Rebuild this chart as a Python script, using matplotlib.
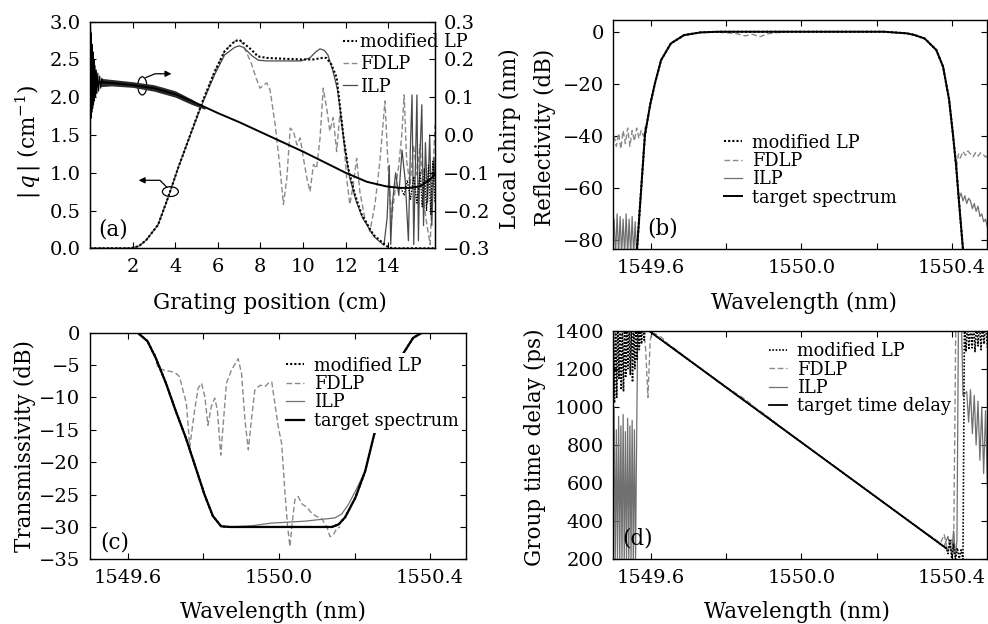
import matplotlib
matplotlib.use("Agg")
import matplotlib.pyplot as plt
from matplotlib.patches import Ellipse


plt.rcParams["font.family"] = ["DejaVu Serif"]
plt.rcParams["mathtext.fontset"] = "dejavuserif"

TICK_SIZE = 14
LABEL_SIZE = 15.5
LEGEND_SIZE = 12.8

MLP_STYLE = dict(color="black", linestyle=(0, (1, 1)), linewidth=1.5)
FDLP_STYLE = dict(color="#8a8a8a", linestyle=(0, (4, 2)), linewidth=1.0)
ILP_STYLE = dict(color="#707070", linestyle="-", linewidth=0.9)
TARGET_STYLE = dict(color="black", linestyle="-", linewidth=2.0)

# ---- (a) |q| and local chirp along the grating ----
pos_mlp = [0, 1.9, 2.3, 2.64, 3.19, 3.66, 4.13, 4.6, 5.22, 5.85, 6.32, 6.79, 7.0, 7.1, 7.57, 7.88,
           8.3, 9.0, 9.87, 10.5, 10.9, 11.1, 11.34, 11.58, 11.73, 11.89, 12.12, 12.44, 12.75, 13.3,
           13.92, 14.2, 16.2]
q_mlp = [0, 0, 0.03, 0.11, 0.31, 0.67, 1.06, 1.42, 1.90, 2.34, 2.61, 2.74, 2.76, 2.74, 2.63, 2.54,
         2.52, 2.51, 2.5, 2.5, 2.52, 2.52, 2.43, 2.26, 1.90, 1.50, 1.06, 0.71, 0.45, 0.18,
         0.03, 0, 0]

pos_fdlp = [0, 1.9, 2.3, 2.64, 3.19, 3.66, 4.13, 4.6, 5.22, 5.85, 6.32, 6.79, 7.0, 7.1, 7.3, 7.57,
            7.8, 7.98, 8.29, 8.45, 8.69, 8.92, 9.08, 9.24, 9.4, 9.55, 9.71, 9.87, 10.02, 10.18,
            10.33, 10.49, 10.64, 10.8, 10.95, 11.11, 11.26, 11.42, 11.58, 11.73, 11.89, 12.05,
            12.2, 12.36, 12.52, 12.67, 12.9, 13.14, 13.38, 13.61, 13.85, 14.0, 14.16, 14.32,
            14.48, 14.64, 14.75, 14.87, 15.03, 15.19, 15.35, 15.5, 15.66, 15.82, 15.97, 16.13, 16.2]
q_fdlp = [0, 0, 0.03, 0.11, 0.31, 0.67, 1.06, 1.42, 1.90, 2.34, 2.61, 2.74, 2.76, 2.74, 2.62, 2.45,
          2.25, 2.12, 2.19, 2.1, 1.64, 1.06, 0.58, 0.93, 1.59, 1.55, 1.37, 1.46, 1.19, 0.93,
          0.75, 1.11, 1.06, 1.46, 2.12, 1.86, 1.55, 1.73, 1.28, 1.77, 1.5, 0.93,
          0.58, 0.84, 1.19, 0.75, 0.4, 0.22, 0.58, 1.15, 1.95, 1.06, 0.4, 0.75,
          1.06, 1.5, 2.03, 1.15, 0.84, 1.37, 0.97, 1.37, 0.62, 0.31, 0.05, 1.19, 1.63]

pos_ilp = [0, 1.9, 2.3, 2.64, 3.19, 3.66, 4.13, 4.6, 5.22, 5.85, 6.32, 6.79, 7.0, 7.2, 7.6, 7.9,
           8.3, 9.0, 9.9, 10.32, 10.6, 10.8, 11.0, 11.17, 11.42, 11.62, 11.78, 11.95, 12.18, 12.5,
           12.8, 13.35, 13.8, 13.95, 14.05, 14.12, 14.2, 14.35, 14.5, 14.65, 14.8, 14.95, 15.05,
           15.12, 15.2, 15.28, 15.35, 15.42, 15.5, 15.58, 15.66, 15.75, 15.85, 15.95, 16.05,
           16.15, 16.2]
q_ilp = [0, 0, 0.03, 0.11, 0.31, 0.67, 1.06, 1.42, 1.88, 2.3, 2.56, 2.66, 2.68, 2.66, 2.55, 2.49,
         2.48, 2.48, 2.48, 2.52, 2.6, 2.64, 2.62, 2.56, 2.33, 2.1, 1.75, 1.35, 0.95, 0.62,
         0.4, 0.15, 0.04, 0.4, 1.1, 0.05, 0.6, 1.0, 0.7, 1.3, 0.9, 0.1, 1.4,
         2.03, 0.05, 1.1, 2.03, 0.1, 1.3, 1.9, 0.3, 1.4, 0.6, 1.5, 0.3,
         1.2, 0.9]

chirp_pos = [0.3, 1, 2, 3, 4, 5, 6, 7, 8, 9, 10, 11, 12, 13, 13.9, 14.5, 15, 15.5, 16, 16.2]
chirp_nm = [0.14, 0.138, 0.132, 0.124, 0.108, 0.084, 0.058, 0.034, 0.008, -0.018, -0.044,
            -0.072, -0.1, -0.124, -0.136, -0.14, -0.14, -0.136, -0.116, -0.104]
chirp_spike_pos = [0.0, 0.02, 0.04, 0.06, 0.08, 0.10, 0.12, 0.14, 0.16, 0.18, 0.20, 0.23, 0.26,
                   0.29, 0.32, 0.36, 0.40, 0.45, 0.5, 0.55, 0.6]
chirp_spike_nm = [0.14, 0.284, 0.044, 0.27, 0.06, 0.24, 0.07, 0.22, 0.08, 0.2, 0.09, 0.184, 0.1,
                  0.172, 0.11, 0.164, 0.116, 0.156, 0.124, 0.15, 0.14]
chirp_band_pos = [0.5, 1, 2, 3, 4, 4.8, 5.4]
chirp_band_hi = [0.15, 0.147, 0.141, 0.133, 0.117, 0.094, 0.072]
chirp_band_lo = [0.128, 0.13, 0.126, 0.116, 0.1, 0.08, 0.068]
chirp_tail_pos = [14.6, 14.75, 14.9, 15.05, 15.2, 15.35, 15.5, 15.6, 15.7, 15.8, 15.9, 16.0,
                  16.1, 16.2]
chirp_tail_nm = [-0.14, -0.16, -0.12, -0.17, -0.11, -0.18, -0.1, -0.19, -0.09, -0.2, -0.08,
                 -0.21, -0.07, -0.18]

# ---- (b) reflectivity ----
refl_wl = [1549.558, 1549.563, 1549.572, 1549.584, 1549.598, 1549.611, 1549.627, 1549.653,
           1549.688, 1549.732, 1549.78, 1550.0, 1550.22, 1550.28, 1550.30, 1550.328, 1550.359,
           1550.377, 1550.393, 1550.403, 1550.412, 1550.419, 1550.430, 1550.434]
refl_db = [-90, -83.6, -64.6, -39.7, -28.0, -19.6, -10.9, -4.5, -1.3, -0.25, 0, 0, 0, -0.6,
           -1.2, -2.6, -7.0, -13.4, -26.0, -39.0, -51.8, -64.6, -83.6, -90]
fdlp_b_left_wl = [1549.502, 1549.508, 1549.514, 1549.520, 1549.526, 1549.532, 1549.538,
                  1549.544, 1549.550, 1549.556, 1549.562, 1549.568, 1549.574, 1549.580, 1549.586]
fdlp_b_left_db = [-40, -44, -39, -45, -38, -43, -37, -44, -38, -42, -37, -41, -38, -40, -36]
fdlp_b_top_wl = [1549.78, 1549.81, 1549.83, 1549.85, 1549.87, 1549.89, 1549.91, 1549.93, 1549.95]
fdlp_b_top_db = [-0.2, -0.5, -0.8, -1.6, -1.0, -1.9, -0.8, -0.4, -0.2]
fdlp_b_right_wl = [1550.413, 1550.418, 1550.423, 1550.43, 1550.437, 1550.443, 1550.45,
                   1550.457, 1550.463, 1550.47, 1550.477, 1550.483, 1550.49, 1550.495]
fdlp_b_right_db = [-52, -47, -48.5, -46, -47.5, -45.8, -47, -48, -46.5, -47.8, -46.5, -47,
                   -48.2, -47.5]
ilp_b_left_wl = [1549.502, 1549.506, 1549.510, 1549.514, 1549.518, 1549.522, 1549.526,
                 1549.530, 1549.534, 1549.538, 1549.542, 1549.546, 1549.550, 1549.554,
                 1549.558, 1549.562]
ilp_b_left_db = [-72, -86, -70, -86, -71, -86, -72, -86, -70, -86, -72, -86, -71, -86, -73, -86]
ilp_b_right_wl = [1550.42, 1550.425, 1550.43, 1550.435, 1550.44, 1550.445, 1550.45, 1550.455,
                  1550.46, 1550.465, 1550.47, 1550.475, 1550.48, 1550.485, 1550.49, 1550.495]
ilp_b_right_db = [-64, -62, -65, -63, -66, -64, -65, -68, -66, -69, -67, -71, -70, -73, -72, -75]

# ---- (c) transmissivity ----
trans_wl = [1549.50, 1549.626, 1549.652, 1549.674, 1549.701, 1549.727, 1549.754, 1549.780,
            1549.803, 1549.825, 1549.847, 1549.87, 1550.14, 1550.158, 1550.175, 1550.202,
            1550.228, 1550.254, 1550.29, 1550.33, 1550.355, 1550.378, 1550.50]
trans_db = [0, 0, -1.3, -3.9, -7.8, -12.1, -16.3, -20.9, -25.0, -28.3, -29.9, -30, -30, -29.6,
            -28.5, -25.5, -21.4, -15.2, -9.5, -3.1, -0.8, 0, 0]
ilp_c_wl = [1549.50, 1549.626, 1549.652, 1549.674, 1549.701, 1549.727, 1549.754, 1549.780,
            1549.803, 1549.825, 1549.847, 1549.87, 1549.93, 1549.98, 1550.069, 1550.148,
            1550.166, 1550.184, 1550.202, 1550.228, 1550.25, 1550.29, 1550.33, 1550.355,
            1550.378, 1550.50]
ilp_c_db = [0, 0, -1.3, -3.9, -7.8, -12.1, -16.3, -20.9, -25.0, -28.3, -29.9, -30, -29.8, -29.4,
            -29.1, -28.6, -28.0, -26.5, -24.5, -21.4, -16.3, -9.8, -3.1, -0.8, 0, 0]
fdlp_c_wl = [1549.50, 1549.626, 1549.652, 1549.665, 1549.671, 1549.680, 1549.697, 1549.715,
             1549.728, 1549.737, 1549.746, 1549.755, 1549.764, 1549.777, 1549.786, 1549.795,
             1549.804, 1549.812, 1549.821, 1549.830, 1549.837, 1549.846, 1549.852, 1549.861,
             1549.874, 1549.892, 1549.901, 1549.910, 1549.919, 1549.927, 1549.936, 1549.950,
             1549.963, 1549.972, 1549.981, 1549.989, 1549.998, 1550.007, 1550.016, 1550.023,
             1550.029, 1550.035, 1550.042, 1550.051, 1550.060, 1550.073, 1550.087, 1550.100,
             1550.113, 1550.127, 1550.135, 1550.144, 1550.153, 1550.162]
fdlp_c_db = [0, 0, -1.3, -2.8, -3.2, -5.5, -5.8, -6.0, -6.3, -6.8, -8.9, -10.9, -17.6, -11.9,
             -8.6, -7.8, -9.9, -14.3, -11.4, -10.1, -11.9, -18.9, -14.5, -7.8, -5.8, -4.0, -6.3,
             -13.5, -18.1, -13.5, -8.9, -8.1, -8.3, -7.8, -7.6, -10.9, -14.5, -17.1, -24.8, -30.0,
             -33.0, -29.4, -25.8, -25.3, -26.4, -26.9, -27.9, -28.4, -28.7, -30.0, -31.5, -31.2,
             -30.2, -30.0]

# ---- (d) group time delay ----
delay_wl = [1549.594, 1550.386]
delay_ps = [1400, 257]
mlp_d_left_wl = [1549.500, 1549.503, 1549.506, 1549.509, 1549.512, 1549.515, 1549.518,
                 1549.521, 1549.524, 1549.527, 1549.530, 1549.533, 1549.536, 1549.539, 1549.542,
                 1549.545, 1549.548, 1549.551, 1549.554, 1549.557, 1549.560, 1549.563, 1549.566,
                 1549.569, 1549.572, 1549.575, 1549.578, 1549.582, 1549.586, 1549.594]
mlp_d_left_ps = [1450, 1020, 1450, 1050, 1450, 1150, 1450, 1090, 1450, 1080, 1450, 1160, 1450,
                 1200, 1450, 1170, 1450, 1130, 1450, 1200, 1450, 1250, 1450, 1300, 1450, 1330,
                 1450, 1350, 1450, 1400]
mlp_d_right_wl = [1550.386, 1550.39, 1550.395, 1550.40, 1550.405, 1550.41, 1550.415, 1550.42,
                  1550.425, 1550.43, 1550.434, 1550.438, 1550.442, 1550.446, 1550.450, 1550.454,
                  1550.458, 1550.462, 1550.466, 1550.470, 1550.474, 1550.478, 1550.482,
                  1550.486, 1550.490, 1550.495]
mlp_d_right_ps = [257, 230, 300, 210, 280, 200, 260, 205, 250, 200, 1450, 1290, 1450, 1300, 1450,
                  1310, 1450, 1290, 1450, 1320, 1450, 1300, 1450, 1330, 1450, 1310]
ilp_d_left_wl = [1549.502, 1549.505, 1549.508, 1549.511, 1549.514, 1549.517, 1549.520,
                 1549.523, 1549.526, 1549.529, 1549.532, 1549.535, 1549.538, 1549.541, 1549.544,
                 1549.547, 1549.550, 1549.553, 1549.556, 1549.559, 1549.562, 1549.565]
ilp_d_left_ps = [1000, 180, 880, 180, 950, 180, 900, 180, 960, 180, 870, 180, 940, 180, 900,
                 180, 930, 180, 880, 180, 850, 1450]
ilp_d_right_wl = [1550.380, 1550.390, 1550.400, 1550.405, 1550.410, 1550.414, 1550.418,
                  1550.426, 1550.430, 1550.440, 1550.445, 1550.450, 1550.455, 1550.460,
                  1550.465, 1550.470, 1550.475, 1550.480, 1550.485, 1550.490, 1550.495]
ilp_d_right_ps = [270, 320, 230, 350, 210, 300, 1450, 1450, 1060, 1080, 920, 1090, 860, 1060,
                  800, 1030, 720, 1000, 650, 980, 590]
fdlp_d_wl = [1549.578, 1549.586, 1549.592, 1549.598, 1549.603, 1549.615, 1549.63, 1549.645,
             1549.66, 1549.70, 1549.80, 1549.85, 1549.865, 1549.88, 1549.90, 1549.92, 1549.94,
             1550.10, 1550.30, 1550.37, 1550.38, 1550.39, 1550.40, 1550.405, 1550.411]
fdlp_d_ps = [1450, 1300, 1050, 1350, 1390, 1380, 1362, 1330, 1310, 1250, 1105, 1040, 1016,
             990, 965, 935, 903, 671, 382, 285, 330, 240, 310, 220, 1450]


def style_axis(ax, right=True):
    ax.tick_params(direction="in", length=4, width=0.8, labelsize=TICK_SIZE, pad=7,
                   top=True, right=right)
    for spine in ax.spines.values():
        spine.set_linewidth(1.0)


def add_legend(ax, handles, anchor, spacing, handle_len, text_pad, opaque=False):
    leg = ax.legend(handles=handles, loc="upper left", bbox_to_anchor=anchor,
                    fontsize=LEGEND_SIZE, frameon=opaque, borderpad=0.2, borderaxespad=0,
                    labelspacing=spacing, handlelength=handle_len, handletextpad=text_pad)
    if opaque:
        leg.get_frame().set_facecolor("white")
        leg.get_frame().set_edgecolor("none")
        leg.get_frame().set_alpha(1.0)
    return leg


def label_axes(ax, xlabel, ylabel, xpos, ypos, tag, tagpos):
    ax.set_xlabel(xlabel, fontsize=LABEL_SIZE, va="center")
    ax.set_ylabel(ylabel, fontsize=LABEL_SIZE, va="center")
    ax.xaxis.set_label_coords(*xpos)
    ax.yaxis.set_label_coords(*ypos)
    ax.text(*tagpos, tag, transform=ax.transAxes, fontsize=LABEL_SIZE, ha="center", va="center")


def wavelength_axis(ax):
    ax.set_xlim(1549.5, 1550.495)
    ax.set_xticks([1549.6, 1549.8, 1550.0, 1550.2, 1550.4])
    ax.set_xticklabels(["1549.6", "", "1550.0", "", "1550.4"])


def plot_a(fig):
    ax = fig.add_axes([0.0912, 0.6021, 0.3491, 0.3632])
    ax2 = ax.twinx()
    l1, = ax.plot(pos_mlp, q_mlp, label="modified LP", zorder=3, **MLP_STYLE)
    l2, = ax.plot(pos_fdlp, q_fdlp, label="FDLP", zorder=2, **FDLP_STYLE)
    ilp_a = dict(ILP_STYLE, color="#4a4a4a")
    l3, = ax.plot(pos_ilp, q_ilp, label="ILP", zorder=2, **ilp_a)

    ax2.plot(chirp_pos, chirp_nm, color="black", linewidth=1.4)
    ax2.plot(chirp_spike_pos, chirp_spike_nm, color="black", linewidth=0.8)
    ax2.fill_between(chirp_band_pos, chirp_band_lo, chirp_band_hi, color="#2a2a2a", linewidth=0)
    ax2.plot(chirp_tail_pos, chirp_tail_nm, color="black", linestyle=(0, (1, 1)), linewidth=1.0)

    ax.set_xlim(0, 16.2)
    ax.set_ylim(0, 3.0)
    ax2.set_ylim(-0.3, 0.3)
    ax.set_xticks([2, 4, 6, 8, 10, 12, 14])
    ax.set_yticks([0, 0.5, 1.0, 1.5, 2.0, 2.5, 3.0])
    ax.set_yticklabels([f"{v:.1f}" for v in [0, 0.5, 1.0, 1.5, 2.0, 2.5, 3.0]])
    ax2.set_yticks([-0.3, -0.2, -0.1, 0.0, 0.1, 0.2, 0.3])
    ax2.set_yticklabels(["\u22120.3", "\u22120.2", "\u22120.1", "0.0", "0.1", "0.2", "0.3"])
    style_axis(ax, right=False)
    ax2.tick_params(direction="in", length=4, width=0.8, labelsize=TICK_SIZE, pad=6)

    # ellipse markers with arrows pointing at the matching axis
    ax.add_patch(Ellipse((2.45, 2.15), 0.42, 0.24, fill=False, color="black", linewidth=0.9))
    ax.plot([2.62, 3.05, 3.3], [2.26, 2.31, 2.31], color="black", linewidth=0.9)
    ax.annotate("", xy=(3.95, 2.31), xytext=(3.2, 2.31),
                arrowprops=dict(arrowstyle="-|>", color="black", linewidth=0.9,
                                mutation_scale=9))
    ax.add_patch(Ellipse((3.77, 0.75), 0.75, 0.13, fill=False, color="black", linewidth=0.9))
    ax.plot([3.6, 3.28, 3.0], [0.81, 0.9, 0.9], color="black", linewidth=0.9)
    ax.annotate("", xy=(2.15, 0.9), xytext=(3.1, 0.9),
                arrowprops=dict(arrowstyle="-|>", color="black", linewidth=0.9,
                                mutation_scale=9))

    add_legend(ax, [l1, l2, l3], (0.723, 0.965), 0.24, 0.8, 0.15)
    label_axes(ax, "Grating position (cm)", r"$|\,q\,|$ (cm$^{-1}$)",
               (0.52, -0.241), (-0.18, 0.47), "(a)", (0.067, 0.085))
    ax2.set_ylabel("Local chirp (nm)", fontsize=LABEL_SIZE, va="center")
    ax2.yaxis.set_label_coords(1.217, 0.486)


def plot_b(fig):
    ax = fig.add_axes([0.6208, 0.6005, 0.3786, 0.3674])
    l1, = ax.plot(refl_wl, refl_db, label="modified LP", zorder=3, **MLP_STYLE)
    l2, = ax.plot(fdlp_b_left_wl, fdlp_b_left_db, label="FDLP", zorder=2, **FDLP_STYLE)
    ax.plot(fdlp_b_top_wl, fdlp_b_top_db, zorder=2, **FDLP_STYLE)
    ax.plot(fdlp_b_right_wl, fdlp_b_right_db, zorder=2, **FDLP_STYLE)
    l3, = ax.plot(ilp_b_left_wl, ilp_b_left_db, label="ILP", zorder=2, **ILP_STYLE)
    ax.plot(ilp_b_right_wl, ilp_b_right_db, zorder=2, **ILP_STYLE)
    l4, = ax.plot(refl_wl, refl_db, label="target spectrum", zorder=4,
                  **dict(TARGET_STYLE, linewidth=1.4))
    wavelength_axis(ax)
    ax.set_ylim(-83.6, 4.5)
    ax.set_yticks([0, -20, -40, -60, -80])
    style_axis(ax)
    add_legend(ax, [l1, l2, l3, l4], (0.287, 0.52), 0.02, 1.0, 0.55)
    label_axes(ax, "Wavelength (nm)", "Reflectivity (dB)",
               (0.51, -0.234), (-0.183, 0.49), "(b)", (0.133, 0.089))


def plot_c(fig):
    ax = fig.add_axes([0.0911, 0.1036, 0.3806, 0.3632])
    l1, = ax.plot(trans_wl, trans_db, label="modified LP", zorder=3, **MLP_STYLE)
    l2, = ax.plot(fdlp_c_wl, fdlp_c_db, label="FDLP", zorder=2, **FDLP_STYLE)
    l3, = ax.plot(ilp_c_wl, ilp_c_db, label="ILP", zorder=2, **ILP_STYLE)
    l4, = ax.plot(trans_wl, trans_db, label="target spectrum", zorder=4,
                  **dict(TARGET_STYLE, linewidth=1.6))
    wavelength_axis(ax)
    ax.set_ylim(-35, 0)
    ax.set_yticks([0, -5, -10, -15, -20, -25, -30, -35])
    style_axis(ax)
    leg = add_legend(ax, [l1, l2, l3, l4], (0.512, 0.91), 0.02, 1.0, 0.55, opaque=True)
    leg.set_zorder(10)
    label_axes(ax, "Wavelength (nm)", "Transmissivity (dB)",
               (0.487, -0.233), (-0.173, 0.5), "(c)", (0.066, 0.076))


def plot_d(fig):
    ax = fig.add_axes([0.6208, 0.1036, 0.3786, 0.3665])
    mlp_wl = mlp_d_left_wl + delay_wl + mlp_d_right_wl
    mlp_ps = mlp_d_left_ps + delay_ps + mlp_d_right_ps
    l1, = ax.plot(mlp_wl, mlp_ps, label="modified LP", zorder=3, **dict(MLP_STYLE, linewidth=1.2))
    l2, = ax.plot(fdlp_d_wl, fdlp_d_ps, label="FDLP", zorder=2, **FDLP_STYLE)
    l3, = ax.plot(ilp_d_left_wl + delay_wl + ilp_d_right_wl,
                  ilp_d_left_ps + delay_ps + ilp_d_right_ps,
                  label="ILP", zorder=2, **ILP_STYLE)
    l4, = ax.plot(delay_wl, delay_ps, label="target time delay", zorder=4,
                  **dict(TARGET_STYLE, linewidth=1.3))
    wavelength_axis(ax)
    ax.set_ylim(200, 1400)
    ax.set_yticks([200, 400, 600, 800, 1000, 1200, 1400])
    style_axis(ax)
    add_legend(ax, [l1, l2, l3, l4], (0.407, 0.965), 0.02, 1.0, 0.55)
    label_axes(ax, "Wavelength (nm)", "Group time delay (ps)",
               (0.49, -0.23), (-0.209, 0.49), "(d)", (0.066, 0.093))


def main():
    fig = plt.figure(figsize=(9.88, 6.24), dpi=100)
    plot_a(fig)
    plot_b(fig)
    plot_c(fig)
    plot_d(fig)
    fig.savefig("out.png", dpi=100)


if __name__ == "__main__":
    main()
